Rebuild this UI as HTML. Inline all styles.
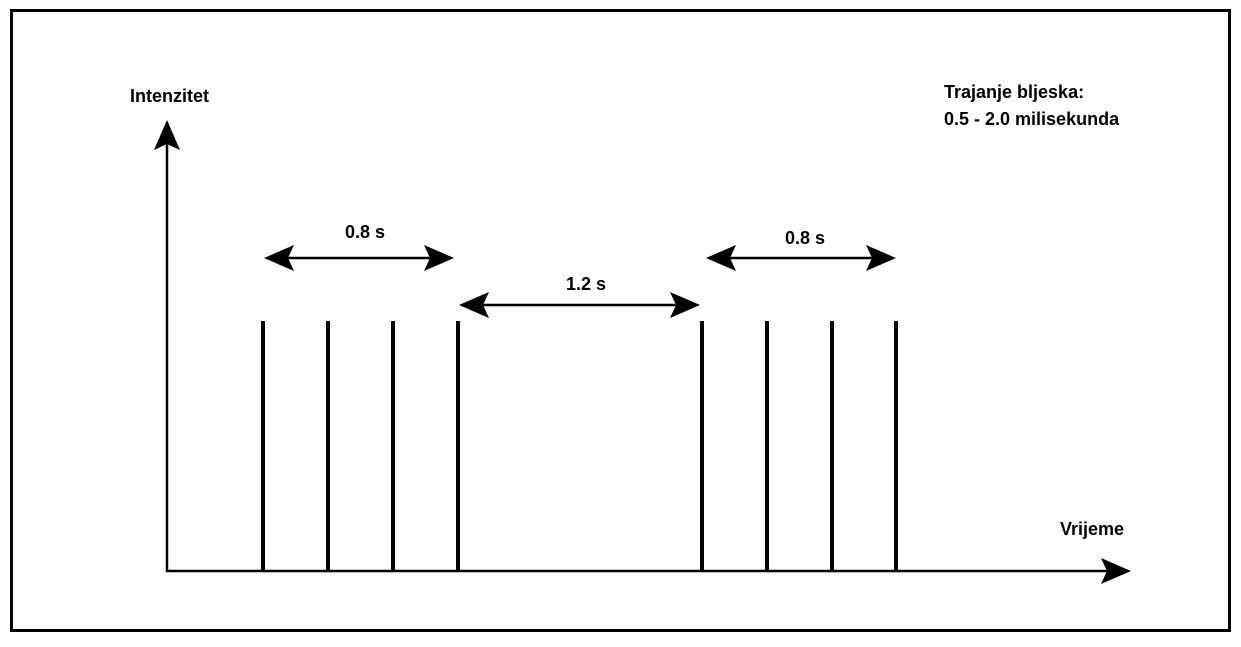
<!DOCTYPE html>
<html><head><meta charset="utf-8"><style>
html,body{margin:0;padding:0;background:#fff;}
svg{display:block;}
text{font-family:"Liberation Sans",Arial,sans-serif;font-weight:bold;font-size:18px;fill:#000;}
</style></head><body>
<svg width="1241" height="647" viewBox="0 0 1241 647" xmlns="http://www.w3.org/2000/svg">
<defs>
<path id="ah" d="M0,0 L-30,-13 L-24,0 L-30,13 Z" fill="#000"/>
</defs>
<rect x="11.5" y="10.5" width="1218" height="620" fill="none" stroke="#000" stroke-width="3"/>
<line x1="167" y1="140" x2="167" y2="572" stroke="#000" stroke-width="2.5"/>
<use href="#ah" transform="translate(167,120) rotate(-90)"/>
<line x1="166" y1="571" x2="1110" y2="571" stroke="#000" stroke-width="2.5"/>
<use href="#ah" transform="translate(1131,571)"/>
<g stroke="#000" stroke-width="4">
<line x1="263" y1="321" x2="263" y2="570"/>
<line x1="328" y1="321" x2="328" y2="570"/>
<line x1="393" y1="321" x2="393" y2="570"/>
<line x1="458" y1="321" x2="458" y2="570"/>
<line x1="702" y1="321" x2="702" y2="570"/>
<line x1="767" y1="321" x2="767" y2="570"/>
<line x1="832" y1="321" x2="832" y2="570"/>
<line x1="896" y1="321" x2="896" y2="570"/>
</g>
<g stroke="#000" stroke-width="2.5">
<line x1="285" y1="258" x2="434" y2="258"/>
<line x1="480" y1="305" x2="680" y2="305"/>
<line x1="727" y1="258" x2="876" y2="258"/>
</g>
<use href="#ah" transform="translate(264,258) rotate(180)"/>
<use href="#ah" transform="translate(454,258)"/>
<use href="#ah" transform="translate(459,305) rotate(180)"/>
<use href="#ah" transform="translate(700,305)"/>
<use href="#ah" transform="translate(706,258) rotate(180)"/>
<use href="#ah" transform="translate(896,258)"/>
<text x="130" y="102">Intenzitet</text>
<text x="365" y="238" text-anchor="middle">0.8 s</text>
<text x="586" y="290" text-anchor="middle">1.2 s</text>
<text x="805" y="244" text-anchor="middle">0.8 s</text>
<text x="1060" y="535">Vrijeme</text>
<text x="944" y="98">Trajanje bljeska:</text>
<text x="944" y="125">0.5 - 2.0 milisekunda</text>
</svg>
</body></html>
